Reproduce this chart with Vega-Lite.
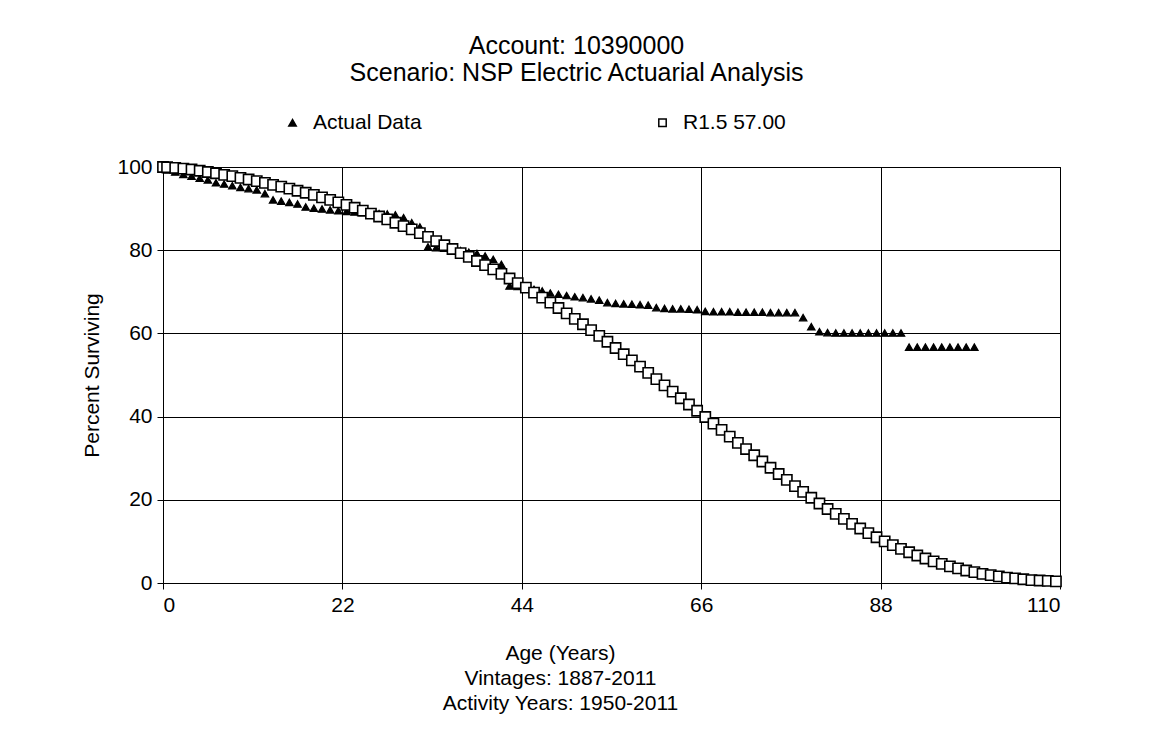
{
  "$schema": "https://vega.github.io/schema/vega-lite/v6.json",
  "width": 897,
  "height": 416,
  "autosize": {"type": "none"},
  "padding": {"left": 163, "top": 167, "right": 99, "bottom": 161},
  "background": "white",
  "title": {
    "text": ["Account: 10390000", "Scenario: NSP Electric Actuarial Analysis"],
    "fontSize": 25,
    "font": "Liberation Sans",
    "fontWeight": "normal",
    "lineHeight": 27,
    "color": "black",
    "anchor": "middle",
    "offset": 26,
    "dx": -35
  },
  "data": {
    "values": [
      {"series": "Actual Data", "age": 0, "pct": 100},
      {"series": "Actual Data", "age": 0.5, "pct": 99.3},
      {"series": "Actual Data", "age": 1.5, "pct": 98.8},
      {"series": "Actual Data", "age": 2.5, "pct": 98.2},
      {"series": "Actual Data", "age": 3.5, "pct": 97.8},
      {"series": "Actual Data", "age": 4.5, "pct": 97.3},
      {"series": "Actual Data", "age": 5.5, "pct": 96.9},
      {"series": "Actual Data", "age": 6.5, "pct": 96.2},
      {"series": "Actual Data", "age": 7.5, "pct": 95.9},
      {"series": "Actual Data", "age": 8.5, "pct": 95.5},
      {"series": "Actual Data", "age": 9.5, "pct": 95.1},
      {"series": "Actual Data", "age": 10.5, "pct": 94.8},
      {"series": "Actual Data", "age": 11.5, "pct": 94.5},
      {"series": "Actual Data", "age": 12.5, "pct": 93.6},
      {"series": "Actual Data", "age": 13.5, "pct": 92.1},
      {"series": "Actual Data", "age": 14.5, "pct": 91.8},
      {"series": "Actual Data", "age": 15.5, "pct": 91.5},
      {"series": "Actual Data", "age": 16.5, "pct": 91.1},
      {"series": "Actual Data", "age": 17.5, "pct": 90.4},
      {"series": "Actual Data", "age": 18.5, "pct": 90.1},
      {"series": "Actual Data", "age": 19.5, "pct": 89.9},
      {"series": "Actual Data", "age": 20.5, "pct": 89.7},
      {"series": "Actual Data", "age": 21.5, "pct": 89.5},
      {"series": "Actual Data", "age": 22.5, "pct": 89.3},
      {"series": "Actual Data", "age": 23.5, "pct": 89.2},
      {"series": "Actual Data", "age": 24.5, "pct": 89.0},
      {"series": "Actual Data", "age": 25.5, "pct": 88.9},
      {"series": "Actual Data", "age": 26.5, "pct": 88.8},
      {"series": "Actual Data", "age": 27.5, "pct": 88.7},
      {"series": "Actual Data", "age": 28.5, "pct": 88.5},
      {"series": "Actual Data", "age": 29.5, "pct": 87.8},
      {"series": "Actual Data", "age": 30.5, "pct": 86.6},
      {"series": "Actual Data", "age": 31.5, "pct": 85.6},
      {"series": "Actual Data", "age": 32.5, "pct": 80.8},
      {"series": "Actual Data", "age": 33.5, "pct": 80.6},
      {"series": "Actual Data", "age": 34.5, "pct": 80.5},
      {"series": "Actual Data", "age": 35.5, "pct": 80.4},
      {"series": "Actual Data", "age": 36.5, "pct": 79.9},
      {"series": "Actual Data", "age": 37.5, "pct": 79.5},
      {"series": "Actual Data", "age": 38.5, "pct": 79.2},
      {"series": "Actual Data", "age": 39.5, "pct": 78.6},
      {"series": "Actual Data", "age": 40.5, "pct": 77.8},
      {"series": "Actual Data", "age": 41.5, "pct": 76.6},
      {"series": "Actual Data", "age": 42.5, "pct": 71.4},
      {"series": "Actual Data", "age": 43.5, "pct": 71.3},
      {"series": "Actual Data", "age": 44.5, "pct": 71.2},
      {"series": "Actual Data", "age": 45.5, "pct": 70.6},
      {"series": "Actual Data", "age": 46.5, "pct": 70.2},
      {"series": "Actual Data", "age": 47.5, "pct": 69.7},
      {"series": "Actual Data", "age": 48.5, "pct": 69.4},
      {"series": "Actual Data", "age": 49.5, "pct": 69.1},
      {"series": "Actual Data", "age": 50.5, "pct": 68.8},
      {"series": "Actual Data", "age": 51.5, "pct": 68.6},
      {"series": "Actual Data", "age": 52.5, "pct": 68.3},
      {"series": "Actual Data", "age": 53.5, "pct": 68.0},
      {"series": "Actual Data", "age": 54.5, "pct": 67.4},
      {"series": "Actual Data", "age": 55.5, "pct": 67.2},
      {"series": "Actual Data", "age": 56.5, "pct": 67.1},
      {"series": "Actual Data", "age": 57.5, "pct": 67.0},
      {"series": "Actual Data", "age": 58.5, "pct": 66.9},
      {"series": "Actual Data", "age": 59.5, "pct": 66.8},
      {"series": "Actual Data", "age": 60.5, "pct": 66.2},
      {"series": "Actual Data", "age": 61.5, "pct": 66.0},
      {"series": "Actual Data", "age": 62.5, "pct": 65.9},
      {"series": "Actual Data", "age": 63.5, "pct": 65.9},
      {"series": "Actual Data", "age": 64.5, "pct": 65.8},
      {"series": "Actual Data", "age": 65.5, "pct": 65.7},
      {"series": "Actual Data", "age": 66.5, "pct": 65.3},
      {"series": "Actual Data", "age": 67.5, "pct": 65.2},
      {"series": "Actual Data", "age": 68.5, "pct": 65.2},
      {"series": "Actual Data", "age": 69.5, "pct": 65.2},
      {"series": "Actual Data", "age": 70.5, "pct": 65.1},
      {"series": "Actual Data", "age": 71.5, "pct": 65.1},
      {"series": "Actual Data", "age": 72.5, "pct": 65.1},
      {"series": "Actual Data", "age": 73.5, "pct": 65.1},
      {"series": "Actual Data", "age": 74.5, "pct": 65.0},
      {"series": "Actual Data", "age": 75.5, "pct": 65.0},
      {"series": "Actual Data", "age": 76.5, "pct": 65.0},
      {"series": "Actual Data", "age": 77.5, "pct": 65.0},
      {"series": "Actual Data", "age": 78.5, "pct": 63.8},
      {"series": "Actual Data", "age": 79.5, "pct": 61.6},
      {"series": "Actual Data", "age": 80.5, "pct": 60.4},
      {"series": "Actual Data", "age": 81.5, "pct": 60.2},
      {"series": "Actual Data", "age": 82.5, "pct": 60.1},
      {"series": "Actual Data", "age": 83.5, "pct": 60.1},
      {"series": "Actual Data", "age": 84.5, "pct": 60.1},
      {"series": "Actual Data", "age": 85.5, "pct": 60.1},
      {"series": "Actual Data", "age": 86.5, "pct": 60.1},
      {"series": "Actual Data", "age": 87.5, "pct": 60.1},
      {"series": "Actual Data", "age": 88.5, "pct": 60.1},
      {"series": "Actual Data", "age": 89.5, "pct": 60.1},
      {"series": "Actual Data", "age": 90.5, "pct": 60.1},
      {"series": "Actual Data", "age": 91.5, "pct": 56.7},
      {"series": "Actual Data", "age": 92.5, "pct": 56.7},
      {"series": "Actual Data", "age": 93.5, "pct": 56.7},
      {"series": "Actual Data", "age": 94.5, "pct": 56.7},
      {"series": "Actual Data", "age": 95.5, "pct": 56.7},
      {"series": "Actual Data", "age": 96.5, "pct": 56.7},
      {"series": "Actual Data", "age": 97.5, "pct": 56.7},
      {"series": "Actual Data", "age": 98.5, "pct": 56.7},
      {"series": "Actual Data", "age": 99.5, "pct": 56.7},
      {"series": "R1.5 57.00", "age": 0, "pct": 100},
      {"series": "R1.5 57.00", "age": 0.5, "pct": 99.95},
      {"series": "R1.5 57.00", "age": 1.5, "pct": 99.8},
      {"series": "R1.5 57.00", "age": 2.5, "pct": 99.6},
      {"series": "R1.5 57.00", "age": 3.5, "pct": 99.4},
      {"series": "R1.5 57.00", "age": 4.5, "pct": 99.1},
      {"series": "R1.5 57.00", "age": 5.5, "pct": 98.8},
      {"series": "R1.5 57.00", "age": 6.5, "pct": 98.5},
      {"series": "R1.5 57.00", "age": 7.5, "pct": 98.1},
      {"series": "R1.5 57.00", "age": 8.5, "pct": 97.8},
      {"series": "R1.5 57.00", "age": 9.5, "pct": 97.4},
      {"series": "R1.5 57.00", "age": 10.5, "pct": 97.0},
      {"series": "R1.5 57.00", "age": 11.5, "pct": 96.6},
      {"series": "R1.5 57.00", "age": 12.5, "pct": 96.2},
      {"series": "R1.5 57.00", "age": 13.5, "pct": 95.7},
      {"series": "R1.5 57.00", "age": 14.5, "pct": 95.3},
      {"series": "R1.5 57.00", "age": 15.5, "pct": 94.8},
      {"series": "R1.5 57.00", "age": 16.5, "pct": 94.3},
      {"series": "R1.5 57.00", "age": 17.5, "pct": 93.8},
      {"series": "R1.5 57.00", "age": 18.5, "pct": 93.3},
      {"series": "R1.5 57.00", "age": 19.5, "pct": 92.7},
      {"series": "R1.5 57.00", "age": 20.5, "pct": 92.1},
      {"series": "R1.5 57.00", "age": 21.5, "pct": 91.5},
      {"series": "R1.5 57.00", "age": 22.5, "pct": 90.9},
      {"series": "R1.5 57.00", "age": 23.5, "pct": 90.2},
      {"series": "R1.5 57.00", "age": 24.5, "pct": 89.5},
      {"series": "R1.5 57.00", "age": 25.5, "pct": 88.8},
      {"series": "R1.5 57.00", "age": 26.5, "pct": 88.1},
      {"series": "R1.5 57.00", "age": 27.5, "pct": 87.4},
      {"series": "R1.5 57.00", "age": 28.5, "pct": 86.6},
      {"series": "R1.5 57.00", "age": 29.5, "pct": 85.8},
      {"series": "R1.5 57.00", "age": 30.5, "pct": 85.0},
      {"series": "R1.5 57.00", "age": 31.5, "pct": 84.1},
      {"series": "R1.5 57.00", "age": 32.5, "pct": 83.2},
      {"series": "R1.5 57.00", "age": 33.5, "pct": 82.2},
      {"series": "R1.5 57.00", "age": 34.5, "pct": 81.2},
      {"series": "R1.5 57.00", "age": 35.5, "pct": 80.3},
      {"series": "R1.5 57.00", "age": 36.5, "pct": 79.3},
      {"series": "R1.5 57.00", "age": 37.5, "pct": 78.4},
      {"series": "R1.5 57.00", "age": 38.5, "pct": 77.4},
      {"series": "R1.5 57.00", "age": 39.5, "pct": 76.4},
      {"series": "R1.5 57.00", "age": 40.5, "pct": 75.4},
      {"series": "R1.5 57.00", "age": 41.5, "pct": 74.3},
      {"series": "R1.5 57.00", "age": 42.5, "pct": 73.2},
      {"series": "R1.5 57.00", "age": 43.5, "pct": 72.1},
      {"series": "R1.5 57.00", "age": 44.5, "pct": 71.0},
      {"series": "R1.5 57.00", "age": 45.5, "pct": 69.8},
      {"series": "R1.5 57.00", "age": 46.5, "pct": 68.6},
      {"series": "R1.5 57.00", "age": 47.5, "pct": 67.4},
      {"series": "R1.5 57.00", "age": 48.5, "pct": 66.1},
      {"series": "R1.5 57.00", "age": 49.5, "pct": 64.8},
      {"series": "R1.5 57.00", "age": 50.5, "pct": 63.5},
      {"series": "R1.5 57.00", "age": 51.5, "pct": 62.2},
      {"series": "R1.5 57.00", "age": 52.5, "pct": 60.8},
      {"series": "R1.5 57.00", "age": 53.5, "pct": 59.4},
      {"series": "R1.5 57.00", "age": 54.5, "pct": 58.0},
      {"series": "R1.5 57.00", "age": 55.5, "pct": 56.5},
      {"series": "R1.5 57.00", "age": 56.5, "pct": 55.0},
      {"series": "R1.5 57.00", "age": 57.5, "pct": 53.5},
      {"series": "R1.5 57.00", "age": 58.5, "pct": 52.0},
      {"series": "R1.5 57.00", "age": 59.5, "pct": 50.5},
      {"series": "R1.5 57.00", "age": 60.5, "pct": 49.0},
      {"series": "R1.5 57.00", "age": 61.5, "pct": 47.5},
      {"series": "R1.5 57.00", "age": 62.5, "pct": 46.0},
      {"series": "R1.5 57.00", "age": 63.5, "pct": 44.4},
      {"series": "R1.5 57.00", "age": 64.5, "pct": 42.9},
      {"series": "R1.5 57.00", "age": 65.5, "pct": 41.4},
      {"series": "R1.5 57.00", "age": 66.5, "pct": 39.9},
      {"series": "R1.5 57.00", "age": 67.5, "pct": 38.3},
      {"series": "R1.5 57.00", "age": 68.5, "pct": 36.8},
      {"series": "R1.5 57.00", "age": 69.5, "pct": 35.2},
      {"series": "R1.5 57.00", "age": 70.5, "pct": 33.7},
      {"series": "R1.5 57.00", "age": 71.5, "pct": 32.2},
      {"series": "R1.5 57.00", "age": 72.5, "pct": 30.7},
      {"series": "R1.5 57.00", "age": 73.5, "pct": 29.2},
      {"series": "R1.5 57.00", "age": 74.5, "pct": 27.7},
      {"series": "R1.5 57.00", "age": 75.5, "pct": 26.2},
      {"series": "R1.5 57.00", "age": 76.5, "pct": 24.8},
      {"series": "R1.5 57.00", "age": 77.5, "pct": 23.3},
      {"series": "R1.5 57.00", "age": 78.5, "pct": 21.9},
      {"series": "R1.5 57.00", "age": 79.5, "pct": 20.5},
      {"series": "R1.5 57.00", "age": 80.5, "pct": 19.1},
      {"series": "R1.5 57.00", "age": 81.5, "pct": 17.8},
      {"series": "R1.5 57.00", "age": 82.5, "pct": 16.6},
      {"series": "R1.5 57.00", "age": 83.5, "pct": 15.4},
      {"series": "R1.5 57.00", "age": 84.5, "pct": 14.2},
      {"series": "R1.5 57.00", "age": 85.5, "pct": 13.1},
      {"series": "R1.5 57.00", "age": 86.5, "pct": 12.0},
      {"series": "R1.5 57.00", "age": 87.5, "pct": 11.0},
      {"series": "R1.5 57.00", "age": 88.5, "pct": 10.0},
      {"series": "R1.5 57.00", "age": 89.5, "pct": 9.1},
      {"series": "R1.5 57.00", "age": 90.5, "pct": 8.2},
      {"series": "R1.5 57.00", "age": 91.5, "pct": 7.4},
      {"series": "R1.5 57.00", "age": 92.5, "pct": 6.6},
      {"series": "R1.5 57.00", "age": 93.5, "pct": 5.9},
      {"series": "R1.5 57.00", "age": 94.5, "pct": 5.2},
      {"series": "R1.5 57.00", "age": 95.5, "pct": 4.6},
      {"series": "R1.5 57.00", "age": 96.5, "pct": 4.0},
      {"series": "R1.5 57.00", "age": 97.5, "pct": 3.5},
      {"series": "R1.5 57.00", "age": 98.5, "pct": 3.0},
      {"series": "R1.5 57.00", "age": 99.5, "pct": 2.6},
      {"series": "R1.5 57.00", "age": 100.5, "pct": 2.2},
      {"series": "R1.5 57.00", "age": 101.5, "pct": 1.9},
      {"series": "R1.5 57.00", "age": 102.5, "pct": 1.6},
      {"series": "R1.5 57.00", "age": 103.5, "pct": 1.3},
      {"series": "R1.5 57.00", "age": 104.5, "pct": 1.1},
      {"series": "R1.5 57.00", "age": 105.5, "pct": 0.9},
      {"series": "R1.5 57.00", "age": 106.5, "pct": 0.7},
      {"series": "R1.5 57.00", "age": 107.5, "pct": 0.6},
      {"series": "R1.5 57.00", "age": 108.5, "pct": 0.5},
      {"series": "R1.5 57.00", "age": 109.5, "pct": 0.4}
    ]
  },
  "encoding": {
    "x": {
      "field": "age",
      "type": "quantitative",
      "scale": {"domain": [0, 110], "nice": false, "zero": false},
      "axis": {
        "values": [0, 22, 44, 66, 88, 110],
        "title": ["Age (Years)", "Vintages: 1887-2011", "Activity Years: 1950-2011"],
        "titleFontSize": 21,
        "titleLineHeight": 25,
        "titlePadding": 27,
        "titleX": 397,
        "labelFontSize": 21,
        "labelPadding": 5,
        "tickSize": 6
      }
    },
    "y": {
      "field": "pct",
      "type": "quantitative",
      "scale": {"domain": [0, 100], "nice": false},
      "axis": {
        "values": [0, 20, 40, 60, 80, 100],
        "title": "Percent Surviving",
        "titleFontSize": 21,
        "titlePadding": 14,
        "labelFontSize": 21,
        "labelPadding": 5,
        "tickSize": 6
      }
    },
    "shape": {
      "field": "series",
      "type": "nominal",
      "scale": {"domain": ["Actual Data", "R1.5 57.00"], "range": ["triangle-up", "square"]},
      "legend": {
        "orient": "none",
        "legendX": 119,
        "legendY": -55,
        "direction": "horizontal",
        "title": null,
        "columns": 2,
        "columnPadding": 230,
        "labelFontSize": 21,
        "labelOffset": 10,
        "symbolSize": 55,
        "encode": {"symbols": {"update": {"stroke": {"value": "black"}, "strokeWidth": {"value": 1.3}}}}
      }
    },
    "fill": {
      "field": "series",
      "type": "nominal",
      "scale": {"domain": ["Actual Data", "R1.5 57.00"], "range": ["black", "white"]},
      "legend": {
        "orient": "none",
        "legendX": 119,
        "legendY": -55,
        "direction": "horizontal",
        "title": null,
        "columns": 2,
        "columnPadding": 230,
        "labelFontSize": 21,
        "labelOffset": 10,
        "symbolSize": 55,
        "encode": {"symbols": {"update": {"stroke": {"value": "black"}, "strokeWidth": {"value": 1.3}}}}
      }
    }
  },
  "layer": [
    {
      "transform": [{"filter": "datum.series == 'Actual Data'"}],
      "mark": {"type": "point", "filled": true, "stroke": "black", "strokeWidth": 1.2, "opacity": 1, "size": 55}
    },
    {
      "transform": [{"filter": "datum.series == 'R1.5 57.00'"}],
      "mark": {"type": "point", "filled": true, "stroke": "black", "strokeWidth": 1.6, "opacity": 1, "size": 105}
    }
  ],
  "config": {
    "font": "Liberation Sans",
    "view": {"stroke": "black", "strokeWidth": 1},
    "axis": {
      "grid": true,
      "gridColor": "black",
      "gridOpacity": 1,
      "gridWidth": 1,
      "domainColor": "black",
      "tickColor": "black",
      "labelColor": "black",
      "titleColor": "black",
      "titleFontWeight": "normal",
      "labelFont": "Liberation Sans",
      "titleFont": "Liberation Sans"
    },
    "legend": {"labelColor": "black", "labelFont": "Liberation Sans"}
  }
}
